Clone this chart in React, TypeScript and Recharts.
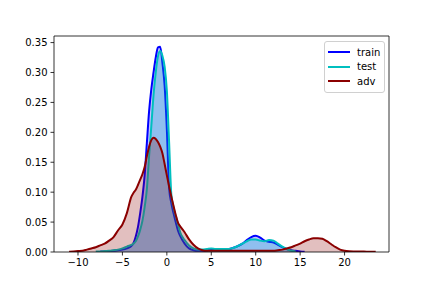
import React from "react";
import {
  ComposedChart,
  Area,
  XAxis,
  YAxis,
  ReferenceArea,
  Legend,
} from "recharts";

// kde sample grid (x) and densities
const XS = [
  -11, -10.5, -10, -9.5, -9, -8.5, -8, -7.5, -7, -6.5, -6, -5.5, -5, -4.5, -4,
  -3.75, -3.5, -3.25, -3, -2.75, -2.5, -2.25, -2, -1.75, -1.5, -1.25, -1, -0.75, -0.5, -0.25, 0, 0.25, 0.5, 0.75, 1, 1.25, 1.5,
  2, 2.5, 3, 3.5, 4, 4.5, 5, 5.5, 6, 6.5, 7, 7.5, 8, 8.5, 9, 9.5, 10, 10.5, 11, 11.5, 12, 12.5, 13, 13.5, 14, 14.5, 15, 15.5,
  16, 16.5, 17, 17.5, 18, 18.5, 19, 19.5, 20, 20.5, 21, 21.5, 22, 22.5, 23, 23.5,
];

const TRAIN = [
  null, null, null, null, null, null, null, 0.0008, 0.001, 0.0015, 0.002, 0.003, 0.004, 0.006, 0.01,
  0.015, 0.026, 0.042, 0.065, 0.092, 0.128, 0.182, 0.235, 0.272, 0.3, 0.325, 0.342, 0.343, 0.316, 0.278, 0.205, 0.108, 0.082, 0.065, 0.05, 0.036, 0.027,
  0.014, 0.006, 0.003, 0.002, 0.002, 0.003, 0.004, 0.004, 0.004, 0.004, 0.005, 0.007, 0.01, 0.014, 0.02, 0.025, 0.027, 0.024, 0.019, 0.017, 0.016, 0.012, 0.008, 0.005, 0.003, 0.002, 0.001, 0.0005,
  null, null, null, null, null, null, null, null, null, null, null, null, null, null, null, null,
];

const TEST = [
  null, null, null, null, null, null, 0.0008, 0.001, 0.0015, 0.002, 0.003, 0.004, 0.006, 0.009, 0.012,
  0.014, 0.018, 0.026, 0.037, 0.052, 0.075, 0.105, 0.16, 0.21, 0.262, 0.3, 0.327, 0.336, 0.328, 0.31, 0.27, 0.185, 0.097, 0.075, 0.06, 0.047, 0.033,
  0.02, 0.011, 0.006, 0.004, 0.004, 0.005, 0.006, 0.005, 0.005, 0.005, 0.005, 0.007, 0.01, 0.014, 0.018, 0.021, 0.021, 0.019, 0.018, 0.02, 0.019, 0.014, 0.009, 0.005, 0.002, 0.001, null, null,
  null, null, null, null, null, null, null, null, null, null, null, null, null, null, null, null,
];

const ADV = [
  0.0005, 0.001, 0.0015, 0.002, 0.004, 0.006, 0.008, 0.011, 0.014, 0.019, 0.025, 0.036, 0.046, 0.065, 0.092,
  0.099, 0.104, 0.112, 0.121, 0.13, 0.142, 0.16, 0.176, 0.187, 0.191, 0.189, 0.184, 0.176, 0.165, 0.147, 0.128, 0.11, 0.093, 0.077, 0.062, 0.049, 0.043,
  0.033, 0.021, 0.012, 0.006, 0.003, 0.002, 0.002, 0.002, 0.002, 0.002, 0.002, 0.002, 0.002, 0.002, 0.002, 0.002, 0.002, 0.002, 0.002, 0.002, 0.002, 0.003, 0.004, 0.006, 0.008, 0.011, 0.014, 0.018,
  0.021, 0.023, 0.023, 0.022, 0.018, 0.013, 0.008, 0.004, 0.002, 0.0012, 0.001, 0.001, 0.0008, 0.0006, 0.0005, 0.0003,
];

const X_TICKS = [-10, -5, 0, 5, 10, 15, 20];
const Y_TICKS = [0, 0.05, 0.1, 0.15, 0.2, 0.25, 0.3, 0.35];
const X_DOMAIN = [-12.7, 25.0];
const Y_DOMAIN = [0, 0.361];

const SERIES = [
  { key: "train", color: "#0000ff" },
  { key: "test", color: "#00bfbf" },
  { key: "adv", color: "#8b0000" },
];

const data = XS.map((x, i) => ({ x, train: TRAIN[i], test: TEST[i], adv: ADV[i] }));

const FONT = "'DejaVu Sans', sans-serif";
const tickStyle = { fontSize: 10, fill: "#000", fontFamily: FONT };

const fmtX = (v: number) => (v < 0 ? "\u2212" + Math.abs(v) : String(v));

function LegendBox() {
  return (
    <div
      style={{
        border: "1px solid #d0d0d0",
        borderRadius: 3,
        background: "rgba(255,255,255,0.8)",
        padding: "3px 6px 3px 3px",
        fontFamily: FONT,
        fontSize: 10,
        color: "#000",
        width: 50,
        textAlign: "left",
      }}
    >
      {SERIES.map((s) => (
        <div
          key={s.key}
          style={{ display: "flex", alignItems: "center", justifyContent: "flex-start", height: 14.5 }}
        >
          <svg width={22} height={4} style={{ marginRight: 7, flex: "none" }}>
            <line x1={0} y1={2} x2={22} y2={2} stroke={s.color} strokeWidth={2} />
          </svg>
          <span>{s.key}</span>
        </div>
      ))}
    </div>
  );
}

export default function App() {
  return (
    <div style={{ position: "absolute", left: 0, top: 0, width: 432, height: 288, background: "#fff" }}>
      <ComposedChart
        width={432}
        height={288}
        data={data}
        margin={{ top: 36, right: 43, bottom: 6, left: 14 }}
      >
        <XAxis
          dataKey="x"
          type="number"
          domain={X_DOMAIN}
          ticks={X_TICKS}
          tickFormatter={fmtX}
          allowDataOverflow
          axisLine={false}
          tickSize={3.5}
          tickMargin={3}
          tick={tickStyle}
          tickLine={{ stroke: "#000", strokeWidth: 0.8 }}
          height={30}
        />
        <YAxis
          type="number"
          domain={Y_DOMAIN}
          ticks={Y_TICKS}
          tickFormatter={(v: number) => v.toFixed(2)}
          allowDataOverflow
          axisLine={false}
          tickSize={3.5}
          tickMargin={3}
          tick={tickStyle}
          tickLine={{ stroke: "#000", strokeWidth: 0.8 }}
          width={40}
        />
        {SERIES.map((s) => (
          <Area
            key={s.key}
            dataKey={s.key}
            type="monotone"
            stroke={s.color}
            strokeWidth={2}
            fill={s.color}
            fillOpacity={0.25}
            isAnimationActive={false}
            dot={false}
            activeDot={false}
          />
        ))}
        <ReferenceArea
          x1={X_DOMAIN[0]}
          x2={X_DOMAIN[1]}
          y1={Y_DOMAIN[0]}
          y2={Y_DOMAIN[1]}
          fill="none"
          stroke="#000"
          strokeWidth={0.8}
          ifOverflow="extendDomain"
        />
        <Legend
          layout="vertical"
          align="center"
          verticalAlign="middle"
          wrapperStyle={{ left: 324, top: 41, width: "auto", textAlign: "left" }}
          content={() => <LegendBox />}
        />
      </ComposedChart>
    </div>
  );
}
